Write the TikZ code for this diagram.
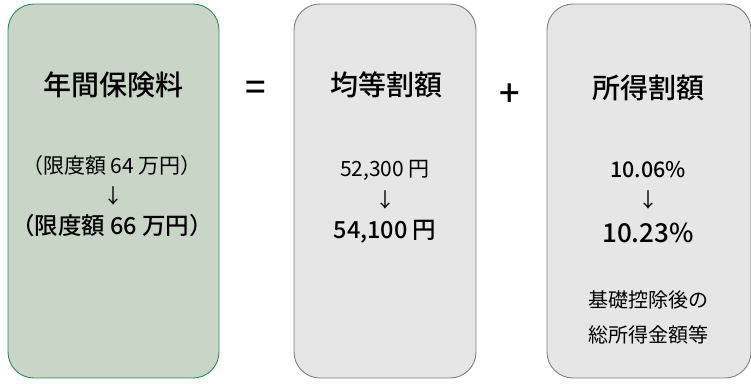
\documentclass[tikz,border=0pt]{standalone}
\usepackage{fontspec}
\setmainfont{Noto Sans CJK JP}
\newfontfamily\medfont{Noto Sans CJK JP Medium}
\definecolor{premgreen}{HTML}{C9D5C6}
\definecolor{premedge}{HTML}{2E8B57}
\definecolor{partgray}{HTML}{E6E6E6}
\definecolor{partedge}{HTML}{7F7F7F}
\begin{document}
\begin{tikzpicture}[
    x=1pt, y=-1pt,
    panel/.style={rounded corners=26pt, minimum height=374pt, inner sep=0pt, line width=0.9pt},
    greenpanel/.style={panel, draw=premedge, fill=premgreen},
    graypanel/.style={panel, draw=partedge, fill=partgray},
    titletext/.style={font=\fontsize{28}{30}\medfont, inner sep=0pt},
    oldtext/.style={font=\fontsize{21}{24}\selectfont, inner sep=0pt},
    newtext/.style={font=\fontsize{23.5}{26}\medfont, inner sep=0pt},
    arrowtext/.style={font=\fontsize{20}{22}\selectfont, inner sep=0pt},
    opsign/.style={font=\fontsize{36}{38}\medfont, inner sep=0pt},
    notetext/.style={font=\fontsize{20}{23}\selectfont, inner sep=0pt},
]
\useasboundingbox (0,0) rectangle (751,383);

% panels
\node[greenpanel, minimum width=211pt] (premium) at (113.5,191) {};
\node[graypanel, minimum width=182pt] (flat) at (385,191) {};
\node[graypanel, minimum width=204pt] (income) at (649,191) {};

% operators
\node[opsign] (eq) at (256,91) {=};
\node[opsign] (plus) at (510,95) {+};

% annual premium
\node[titletext] (premtitle) at (113,85) {年間保険料};
\node[oldtext] (premold) at (112,166) {（限度額 64 万円）};
\node[arrowtext] (premarrow) at (113,196) {↓};
\node[newtext] (premnew) at (112,226) {（限度額 66 万円）};

% per-capita levy
\node[titletext] (flattitle) at (386,85) {均等割額};
\node[oldtext] (flatold) at (385,170) {52,300 円};
\node[arrowtext] (flatarrow) at (385,200) {↓};
\node[newtext] (flatnew) at (385,232) {54,100 円};

% income levy
\node[titletext] (inctitle) at (648,88) {所得割額};
\node[oldtext, font=\fontsize{21.5}{24}\medfont] (incold) at (648,170) {10.06\%};
\node[arrowtext] (incarrow) at (648,200) {↓};
\node[newtext, font=\fontsize{26}{28}\medfont] (incnew) at (648,233) {10.23\%};
\node[notetext] (incnote1) at (648,300) {基礎控除後の};
\node[notetext] (incnote2) at (648,335) {総所得金額等};

\end{tikzpicture}
\end{document}
